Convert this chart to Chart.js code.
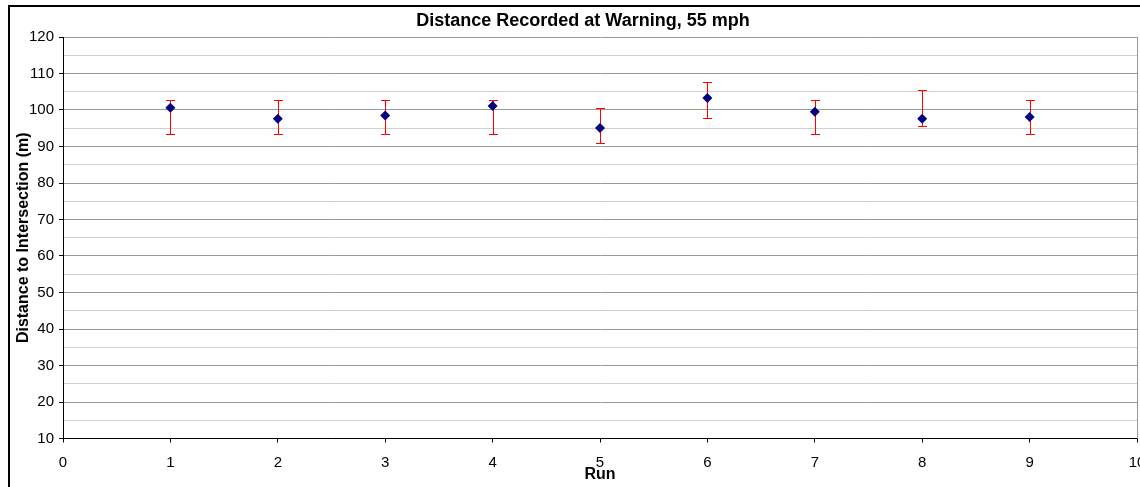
<!DOCTYPE html>
<html>
<head>
<meta charset="utf-8">
<script src="https://cdn.jsdelivr.net/npm/chart.js@4.4.1/dist/chart.umd.min.js"></script>
<style>
  html, body { margin: 0; padding: 0; background: #fff; overflow: hidden; width: 1140px; height: 487px; }
  #wrap { width: 1160px; height: 487px; position: relative; }
</style>
</head>
<body>
<div id="wrap"><canvas id="c" width="1160" height="487"></canvas></div>
<script>
const chartTitle = 'Distance Recorded at Warning, 55 mph';
const xTitle = 'Run';
const yTitle = 'Distance to Intersection (m)';
const runs = [1, 2, 3, 4, 5, 6, 7, 8, 9];
const distance = [100.6, 97.6, 98.5, 101.1, 95.1, 103.3, 99.5, 97.6, 98.1];
const errorHigh = [102.7, 102.7, 102.7, 102.8, 100.6, 107.7, 102.7, 105.5, 102.7];
const errorLow = [93.3, 93.3, 93.3, 93.3, 91.0, 97.7, 93.3, 95.5, 93.3];
const xRange = [0, 10];
const yRange = [10, 120];

const FONT = "'Liberation Sans', Arial, sans-serif";
const TICK_SIZE = 15;
const AXIS_TITLE_SIZE = 16;
const MAIN_TITLE_SIZE = 18;

const errorBarPlugin = {
  id: 'errorBars',
  beforeDatasetsDraw(chart) {
    const ctx = chart.ctx;
    const xs = chart.scales.x, ys = chart.scales.y;
    ctx.save();
    ctx.strokeStyle = '#ff0000';
    ctx.lineWidth = 1;
    runs.forEach((r, i) => {
      const px = Math.round(xs.getPixelForValue(r)) + 0.5;
      const pt = Math.round(ys.getPixelForValue(errorHigh[i])) + 0.5;
      const pb = Math.round(ys.getPixelForValue(errorLow[i])) + 0.5;
      ctx.beginPath();
      ctx.moveTo(px, pt); ctx.lineTo(px, pb);
      ctx.moveTo(px - 4.5, pt); ctx.lineTo(px + 4.5, pt);
      ctx.moveTo(px - 4.5, pb); ctx.lineTo(px + 4.5, pb);
      ctx.stroke();
    });
    ctx.restore();
  }
};

const framePlugin = {
  id: 'frame',
  beforeDraw(chart) {
    const ctx = chart.ctx;
    ctx.save();
    ctx.fillStyle = '#fff';
    ctx.fillRect(0, 0, chart.width, chart.height);
    ctx.restore();
  },
  afterDraw(chart) {
    const ctx = chart.ctx;
    const a = chart.chartArea;
    ctx.save();
    ctx.strokeStyle = '#999';
    ctx.lineWidth = 1;
    ctx.beginPath();
    ctx.moveTo(Math.round(a.right) + 0.5, a.top);
    ctx.lineTo(Math.round(a.right) + 0.5, a.bottom);
    ctx.stroke();
    ctx.strokeStyle = '#000';
    ctx.lineWidth = 2;
    ctx.beginPath();
    ctx.moveTo(9, chart.height + 2);
    ctx.lineTo(9, 6);
    ctx.lineTo(chart.width + 2, 6);
    ctx.stroke();
    ctx.restore();
  }
};

new Chart(document.getElementById('c'), {
  type: 'scatter',
  data: {
    datasets: [{
      label: 'Distance',
      data: runs.map((r, i) => ({ x: r, y: distance[i] })),
      pointStyle: 'rectRot',
      radius: 5,
      hoverRadius: 5,
      backgroundColor: '#000080',
      borderColor: '#000080',
      borderWidth: 0
    }]
  },
  options: {
    responsive: false,
    devicePixelRatio: 1,
    animation: false,
    layout: { padding: { left: 9, right: 3, top: 0, bottom: 0 } },
    plugins: {
      legend: { display: false },
      tooltip: { enabled: false },
      title: {
        display: true,
        text: chartTitle,
        color: '#000',
        font: { family: FONT, size: MAIN_TITLE_SIZE, weight: 'bold' },
        padding: { top: 10.6, bottom: 4.8 }
      }
    },
    scales: {
      x: {
        type: 'linear',
        min: xRange[0], max: xRange[1],
        afterFit(s) { s.height = 48.5; s.paddingLeft = 0; s.paddingRight = 0; },
        ticks: { stepSize: 1, color: '#000', font: { family: FONT, size: TICK_SIZE }, padding: 11, maxRotation: 0, autoSkip: false },
        grid: { drawOnChartArea: false, drawTicks: true, tickLength: 4, tickColor: '#000' },
        border: { color: '#000', width: 1 },
        title: { display: true, text: xTitle, color: '#000', font: { family: FONT, size: AXIS_TITLE_SIZE, weight: 'bold' }, padding: { top: 0, bottom: 2.4 } }
      },
      y: {
        type: 'linear',
        min: yRange[0], max: yRange[1],
        afterFit(s) { s.width = 54; },
        ticks: {
          stepSize: 5, color: '#000', font: { family: FONT, size: TICK_SIZE }, padding: 5, autoSkip: false,
          callback: v => (v % 10 === 0 ? String(v) : '')
        },
        grid: {
          drawTicks: true, tickLength: 4,
          color: ctx => (ctx.tick && ctx.tick.value % 10 === 0 ? '#999' : '#d0d0d0'),
          tickColor: ctx => (ctx.tick && ctx.tick.value % 10 === 0 ? '#000' : 'rgba(0,0,0,0)')
        },
        border: { color: '#000', width: 1 },
        title: { display: true, text: yTitle, color: '#000', font: { family: FONT, size: AXIS_TITLE_SIZE, weight: 'bold' }, padding: { top: 5, bottom: 0 } }
      },
      yPad: {
        type: 'linear',
        position: 'right',
        display: true,
        afterFit(s) { s.width = 20; },
        ticks: { display: false },
        grid: { display: false, drawOnChartArea: false },
        border: { display: false }
      }
    }
  },
  plugins: [errorBarPlugin, framePlugin]
});
</script>
</body>
</html>
